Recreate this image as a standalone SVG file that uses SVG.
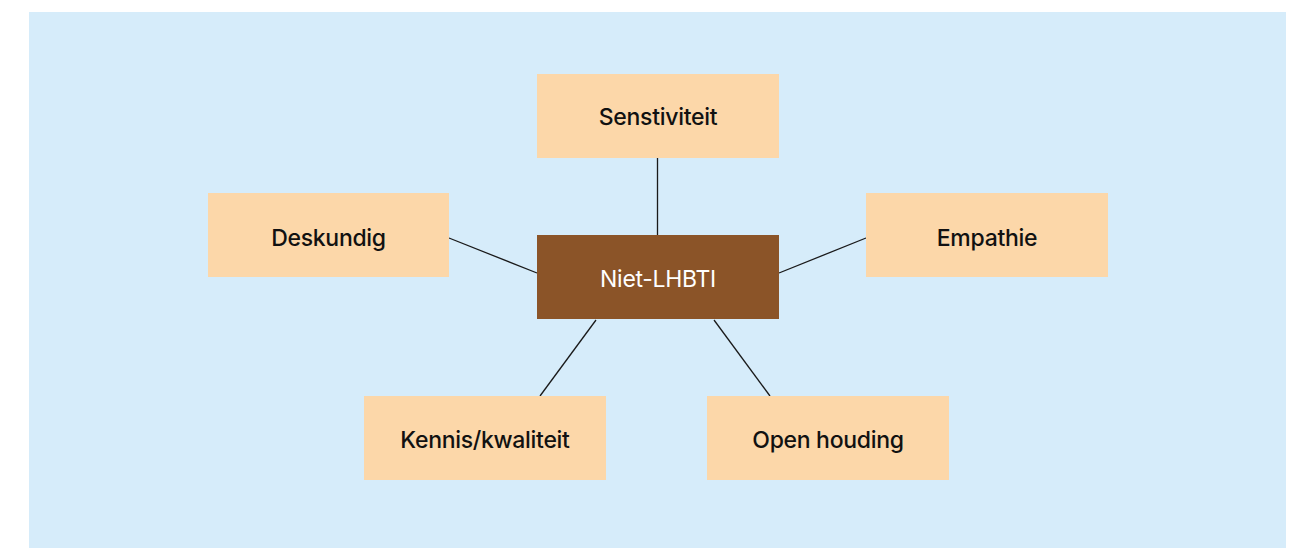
<svg xmlns="http://www.w3.org/2000/svg" width="1297" height="548" viewBox="0 0 1297 548">
<style>
.bg{fill:#d6ecfa}
.box{fill:#fcd7a9}
.center{fill:#8b5428}
.lbl{font-family:Inter,"Noto Sans",sans-serif;font-size:23px;font-weight:500;letter-spacing:-0.3px;fill:#111;text-anchor:middle;dominant-baseline:central}
.lblw{fill:#ffffff;font-weight:400}
.edge{stroke:#1a1a1a;stroke-width:1.3;fill:none}
</style>
<rect x="0" y="0" width="1297" height="548" fill="#ffffff"/>
<rect class="bg" x="29" y="12" width="1257" height="536"/>
<g id="connectors">
<line class="edge" x1="657.5" y1="158" x2="657.5" y2="235"/>
<line class="edge" x1="449" y1="238" x2="537" y2="273"/>
<line class="edge" x1="779" y1="273" x2="866" y2="238"/>
<line class="edge" x1="596" y1="320" x2="540" y2="396"/>
<line class="edge" x1="714" y1="320" x2="770" y2="396"/>
</g>
<g id="node-center">
<rect class="center" x="537" y="235" width="242" height="84"/>
<text class="lbl lblw" x="658" y="279">Niet-LHBTI</text>
</g>
<g id="node-senstiviteit">
<rect class="box" x="537" y="74" width="242" height="84"/>
<text class="lbl" x="658" y="117">Senstiviteit</text>
</g>
<g id="node-deskundig">
<rect class="box" x="208" y="193" width="241" height="84"/>
<text class="lbl" x="328.5" y="238">Deskundig</text>
</g>
<g id="node-empathie">
<rect class="box" x="866" y="193" width="242" height="84"/>
<text class="lbl" x="987" y="238">Empathie</text>
</g>
<g id="node-kennis">
<rect class="box" x="364" y="396" width="242" height="84"/>
<text class="lbl" x="485" y="440">Kennis/kwaliteit</text>
</g>
<g id="node-open">
<rect class="box" x="707" y="396" width="242" height="84"/>
<text class="lbl" x="828" y="440">Open houding</text>
</g>
</svg>
